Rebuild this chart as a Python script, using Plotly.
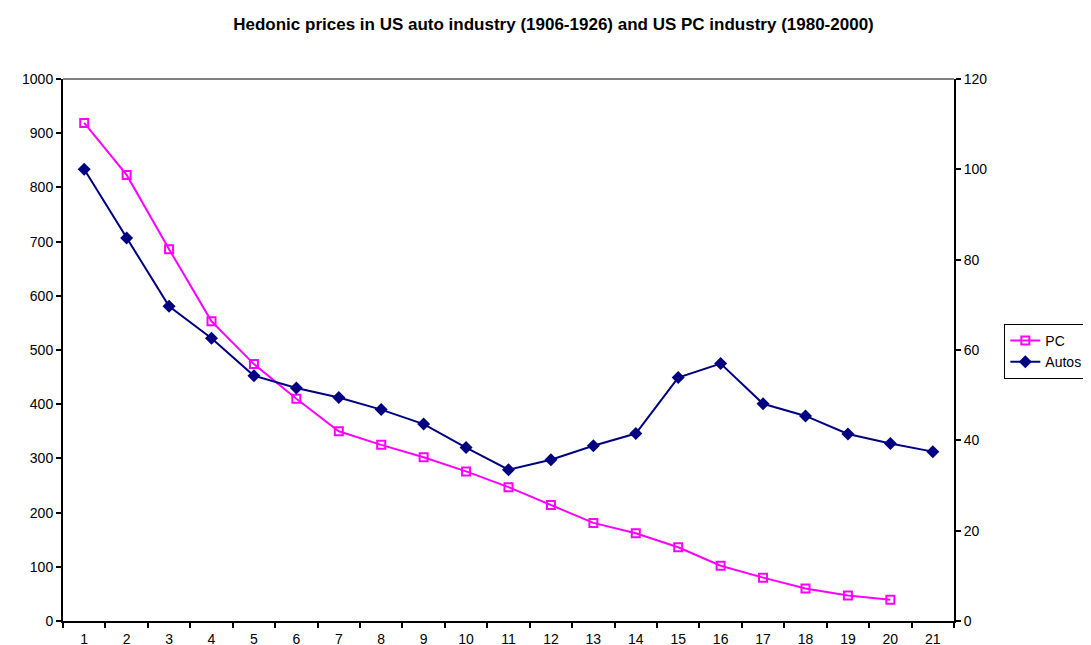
import plotly.graph_objects as go

periods = [str(i) for i in range(1, 22)]
pc_prices = [919, 823, 686, 553, 474, 410, 350, 325, 302, 276, 247,
             214, 181, 162, 136, 102, 80, 60, 47, 39]
auto_prices = [100, 84.8, 69.7, 62.6, 54.3, 51.6, 49.5, 46.8, 43.6, 38.4, 33.5,
               35.7, 38.8, 41.5, 53.9, 57.0, 48.1, 45.4, 41.4, 39.3, 37.5]

FONT = "Liberation Sans, Arial, sans-serif"

fig = go.Figure()

fig.add_trace(go.Scatter(
    x=periods[:len(pc_prices)], y=pc_prices, name="PC",
    mode="lines+markers",
    line=dict(color="#FF00FF", width=2),
    marker=dict(symbol="square-open", size=8, color="#FF00FF",
                line=dict(color="#FF00FF", width=2)),
))

fig.add_trace(go.Scatter(
    x=periods, y=auto_prices, name="Autos", yaxis="y2",
    mode="lines+markers",
    line=dict(color="#000080", width=2),
    marker=dict(symbol="diamond", size=10, color="#000080"),
))

# gray top border of the plot area
fig.add_shape(type="line", xref="paper", yref="paper",
              x0=0, x1=1, y0=1, y1=1,
              line=dict(color="#808080", width=2))

axis_style = dict(
    showline=True, linecolor="black", linewidth=2,
    ticks="outside", ticklen=5, tickwidth=2, tickcolor="black",
    showgrid=False, zeroline=False, automargin=False,
    tickfont=dict(family=FONT, size=14, color="black"),
)

fig.update_layout(
    width=1091, height=645,
    margin=dict(l=55, r=134, t=71, b=32),
    plot_bgcolor="white", paper_bgcolor="white",
    font=dict(family=FONT, size=14, color="black"),
    title=dict(
        text="<b>Hedonic prices in US auto industry (1906-1926) and US PC industry (1980-2000)</b>",
        x=0.5, xanchor="center", y=1 - 16 / 645, yref="container", yanchor="middle",
        font=dict(family=FONT, size=17, color="black"),
    ),
    xaxis=dict(
        type="category", categoryorder="array", categoryarray=periods,
        range=[-0.5, 20.5], tickson="boundaries", ticklabelstandoff=4,
        **axis_style,
    ),
    yaxis=dict(range=[0, 1000], dtick=100, **axis_style),
    yaxis2=dict(range=[0, 120], dtick=20, overlaying="y", side="right", **axis_style),
    legend=dict(
        x=1.0565, xanchor="left", y=0.548, yanchor="top",
        bordercolor="black", borderwidth=1, bgcolor="white",
        font=dict(family=FONT, size=14, color="black"),
        tracegroupgap=0, itemwidth=30,
    ),
)

fig.write_html("out.html")
